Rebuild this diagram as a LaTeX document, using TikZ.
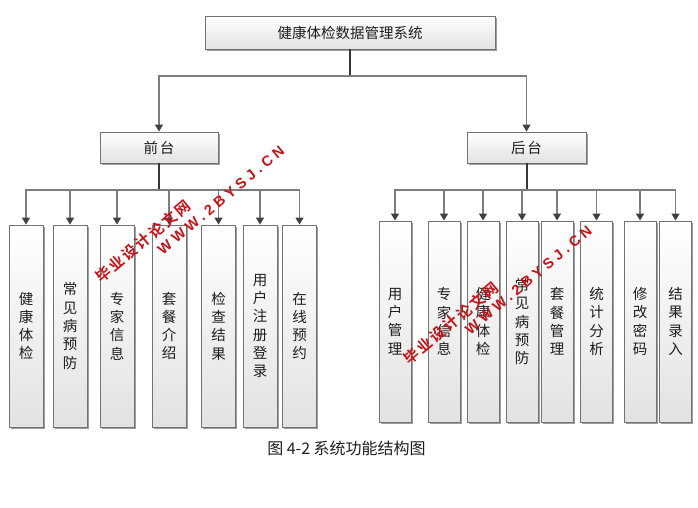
\documentclass[tikz,border=0pt]{standalone}
\usepackage{fontspec}
\newfontfamily\cjk{Noto Sans CJK SC}
\newfontfamily\wmcjk{Noto Sans CJK SC Bold}[LetterSpace=14]
\newfontfamily\wmlat{Liberation Sans Bold}[LetterSpace=28]
\usetikzlibrary{arrows.meta,shadows}
\definecolor{linegray}{RGB}{125,125,125}
\definecolor{trunkgray}{RGB}{55,55,55}
\definecolor{headgray}{RGB}{65,65,65}
\definecolor{boxedge}{RGB}{115,115,115}
\definecolor{boxbottom}{RGB}{226,226,226}
\definecolor{txt}{RGB}{30,30,30}
\definecolor{wmred}{RGB}{200,18,24}
\begin{document}
\begin{tikzpicture}[x=1pt,y=-1pt,
  box/.style={draw=boxedge, line width=0.9pt, top color=white, bottom color=boxbottom,
    drop shadow={shadow xshift=1.6pt, shadow yshift=-1.6pt, fill=black!55, opacity=0.7},
    inner sep=0pt, align=center, text=txt, font=\cjk\fontsize{14.5}{18.3}\selectfont},
  vbox/.style={box, minimum width=34pt, minimum height=202pt},
  rbox/.style={box, minimum width=32pt, minimum height=201pt},
  branch/.style={draw=linegray, line width=1.3pt,
    -{Triangle[width=8pt,length=7pt,fill=headgray,color=headgray]}},
  trunk/.style={draw=trunkgray, line width=2pt},
  wmzh/.style={text=wmred, font=\wmcjk\fontsize{15}{15}\selectfont, inner sep=0pt},
  wmen/.style={text=wmred, font=\wmlat\fontsize{14.5}{14.5}\selectfont, inner sep=0pt}
]
\useasboundingbox (0,0) rectangle (698,508);

% top level
\node[box, minimum width=290pt, minimum height=33pt] (top) at (350,32.5) {健康体检数据管理系统};
\node[box, minimum width=118pt, minimum height=31pt] (front) at (159,147.5) {前\hspace{2pt}台};
\node[box, minimum width=119pt, minimum height=31pt] (back) at (526.5,147.5) {后\hspace{2pt}台};

\coordinate (tb) at (350,76);
\draw[trunk] (top.south) -- (tb);
\draw[branch] (tb) -| (front.north);
\draw[branch] (tb) -| (back.north);

% front children
\foreach \x/\n/\t in {26/l1/{健\\康\\体\\检}, 70/l2/{常\\见\\病\\预\\防}, 117/l3/{专\\家\\信\\息},
  169/l4/{套\\餐\\介\\绍}, 218.5/l5/{检\\查\\结\\果}, 260/l6/{用\\户\\注\\册\\登\\录}, 299.5/l7/{在\\线\\预\\约}}
  {\node[vbox] (\n) at (\x,326) {\t};}
\coordinate (fb) at (159,190);
\draw[trunk] (front.south) -- (fb);
\foreach \n in {l1,l2,l3,l4,l5,l6,l7} {\draw[branch] (fb) -| (\n.north);}

% back children
\foreach \x/\n/\t in {395/r1/{用\\户\\管\\理}, 444/r2/{专\\家\\信\\息}, 483/r3/{健\\康\\体\\检},
  522/r4/{常\\见\\病\\预\\防}, 557/r5/{套\\餐\\管\\理}, 596.5/r6/{统\\计\\分\\析},
  640/r7/{修\\改\\密\\码}, 675.5/r8/{结\\果\\录\\入}}
  {\node[rbox] (\n) at (\x,321.5) {\t};}
\coordinate (bb) at (526.5,190);
\draw[trunk] (back.south) -- (bb);
\foreach \n in {r1,r2,r3,r4,r5,r6,r7,r8} {\draw[branch] (bb) -| (\n.north);}

% caption
\node[text=txt, font=\cjk\fontsize{16}{18}\selectfont] (cap) at (346.5,448) {图 4-2 系统功能结构图};

% watermarks
\node[wmzh, rotate=40] (wm1a) at (143,241) {毕业设计论文网};
\node[wmen, rotate=40] (wm1b) at (221,200) {WWW.2BYSJ.CN};
\node[wmzh, rotate=40] (wm2a) at (451,323.5) {毕业设计论文网};
\node[wmen, rotate=40] (wm2b) at (528.5,280) {WWW.2BYSJ.CN};
\end{tikzpicture}
\end{document}
